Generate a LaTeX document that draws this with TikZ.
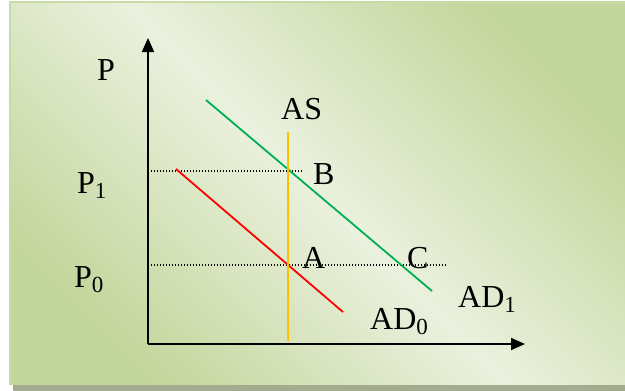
\documentclass[tikz,border=0pt]{standalone}
\usepackage{fontspec}
\setmainfont{Liberation Serif}
\usetikzlibrary{arrows.meta}
\definecolor{bgdark}{HTML}{C3D69B}
\definecolor{bglight}{HTML}{EAF1DE}
\definecolor{bgborder}{HTML}{C8DBA6}
\definecolor{shadowgray}{HTML}{A5AB8E}
\definecolor{adred}{HTML}{FF0000}
\definecolor{adgreen}{HTML}{00B050}
\definecolor{asorange}{HTML}{FFC000}
\newcommand\mysub[1]{\raisebox{-5pt}{\fontsize{23}{23}\selectfont #1}}
\tikzset{
  lbl/.style={anchor=base west, inner sep=0pt, font=\fontsize{32}{36}\selectfont},
  axis/.style={line width=1.8pt, -{Triangle[length=14pt,width=12pt]}},
  guide/.style={line width=1.2pt, dash pattern=on 1.2pt off 1.8pt},
  curve/.style={line width=1.8pt}
}
\begin{document}
\begin{tikzpicture}[x=1pt,y=-1pt]
\useasboundingbox (0,0) rectangle (625,391);
\fill[white] (0,0) rectangle (625,391);
\fill[shadowgray] (13,384) rectangle (625,391);
\shade[top color=bgdark, bottom color=bgdark, middle color=bglight, shading angle=-45] (9,1) rectangle (625,384);
\draw[bgborder, line width=2.5pt] (10.2,384) -- (10.2,2.2) -- (625,2.2);

% coordinates
\coordinate (O) at (148,344);
\coordinate (Ytop) at (148,38);
\coordinate (Xend) at (525,344);
\coordinate (p1L) at (148,171);
\coordinate (p1R) at (303,171);
\coordinate (p0L) at (148,265);
\coordinate (p0R) at (447,265);
\coordinate (red1) at (176,169);
\coordinate (red2) at (343,312);
\coordinate (grn1) at (206,100);
\coordinate (grn2) at (432,291);
\coordinate (as1) at (288,132);
\coordinate (as2) at (288,341);

% guides
\draw[guide] (p1L) -- (p1R);
\draw[guide] (p0L) -- (p0R);

% curves
\draw[curve, adred] (red1) -- (red2);
\draw[curve, adgreen] (grn1) -- (grn2);
\draw[curve, asorange] (as1) -- (as2);

% axes
\draw[axis] (O) -- (Ytop);
\draw[axis] (O) -- (Xend);

% labels
\node[lbl] (Plab) at (97,80) {P};
\node[lbl] (P1lab) at (77,193) {P\mysub{1}};
\node[lbl] (P0lab) at (74,287) {P\mysub{0}};
\node[lbl] (ASlab) at (281,119) {AS};
\node[lbl] (Blab) at (313,184) {B};
\node[lbl] (Alab) at (302,268) {A};
\node[lbl] (Clab) at (407,268) {C};
\node[lbl] (AD1lab) at (458,307) {AD\mysub{1}};
\node[lbl] (AD0lab) at (370,329) {AD\mysub{0}};
\end{tikzpicture}
\end{document}
